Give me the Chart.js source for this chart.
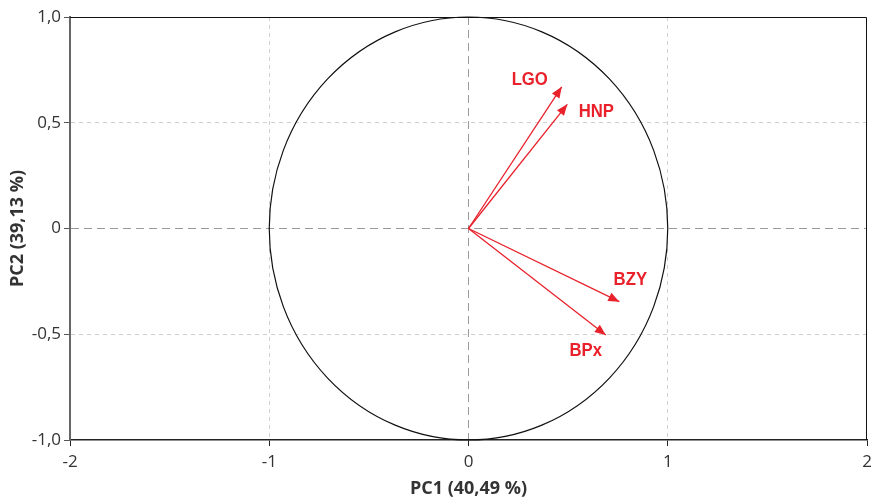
<!DOCTYPE html>
<html>
<head>
<meta charset="utf-8">
<script src="https://cdn.jsdelivr.net/npm/chart.js@4.4.1/dist/chart.umd.min.js"></script>
<style>
  body { margin: 0; background: #fff; }
  #wrap { width: 872px; height: 504px; }
</style>
</head>
<body>
<div id="wrap"><canvas id="pca"></canvas></div>
<script>
// variables du cercle des corrélations
const varNames = ["LGO", "HNP", "BZY", "BPx"];
const pc1 = [0.468, 0.496, 0.757, 0.689];
const pc2 = [0.670, 0.587, -0.346, -0.504];
const xTitle = "PC1 (40,49 %)";
const yTitle = "PC2 (39,13 %)";

const red = "#e8212b";

// décalage des étiquettes par rapport à la pointe (px)
const labelOffsets = { LGO: [-32, -7], HNP: [29, 7], BZY: [11, -22], BPx: [-20, 16] };

const datasets = varNames.map((name, i) => ({
  label: name,
  data: [{ x: 0, y: 0 }, { x: pc1[i], y: pc2[i] }],
  borderColor: red,
  borderWidth: 1.3,
  pointRadius: 0,
  showLine: true,
}));

function gridColor(ctx, edge) {
  const v = ctx.tick.value;
  if (Math.abs(v) === edge) return "rgba(0,0,0,0)";
  return v === 0 ? "#9a9a9a" : "#d0d0d0";
}
function gridDash(ctx) {
  return ctx.tick && ctx.tick.value === 0 ? [8, 5] : [4, 4];
}

const circlePlugin = {
  id: "circle",
  beforeDatasetsDraw(chart) {
    const { ctx, scales } = chart;
    const x0 = scales.x.getPixelForValue(0);
    const y0 = scales.y.getPixelForValue(0);
    const rx = scales.x.getPixelForValue(1) - x0;
    const ry = y0 - scales.y.getPixelForValue(1);
    ctx.save();
    ctx.strokeStyle = "#111";
    ctx.lineWidth = 1.2;
    ctx.beginPath();
    ctx.ellipse(x0, y0, rx, ry, 0, 0, Math.PI * 2);
    ctx.stroke();
    ctx.restore();
  },
};

const arrowPlugin = {
  id: "arrows",
  afterDatasetsDraw(chart) {
    const { ctx } = chart;
    chart.data.datasets.forEach((ds, i) => {
      const meta = chart.getDatasetMeta(i);
      const a = meta.data[0], b = meta.data[1];
      const ang = Math.atan2(b.y - a.y, b.x - a.x);
      const len = 11, half = 4.5;
      ctx.save();
      ctx.fillStyle = red;
      ctx.beginPath();
      ctx.moveTo(b.x, b.y);
      ctx.lineTo(b.x - len * Math.cos(ang) + half * Math.sin(ang), b.y - len * Math.sin(ang) - half * Math.cos(ang));
      ctx.lineTo(b.x - len * Math.cos(ang) - half * Math.sin(ang), b.y - len * Math.sin(ang) + half * Math.cos(ang));
      ctx.closePath();
      ctx.fill();

      // étiquette un peu condensée
      const off = labelOffsets[ds.label];
      ctx.translate(b.x + off[0], b.y + off[1]);
      ctx.scale(0.88, 1);
      ctx.font = "bold 19px 'Liberation Sans', sans-serif";
      ctx.textAlign = "center";
      ctx.textBaseline = "middle";
      ctx.fillText(ds.label, 0, 0);
      ctx.restore();
    });
  },
};

const framePlugin = {
  id: "frame",
  afterDraw(chart) {
    const { ctx, chartArea } = chart;
    ctx.save();
    ctx.strokeStyle = "#111";
    ctx.lineWidth = 1;
    ctx.beginPath();
    ctx.moveTo(chartArea.left, chartArea.top + 0.5);
    ctx.lineTo(chartArea.right - 0.5, chartArea.top + 0.5);
    ctx.lineTo(chartArea.right - 0.5, chartArea.bottom);
    ctx.stroke();
    ctx.restore();
  },
};

new Chart(document.getElementById("pca"), {
  type: "scatter",
  data: { datasets },
  options: {
    responsive: true,
    maintainAspectRatio: false,
    animation: false,
    layout: { padding: { top: 17, right: 0, left: 0, bottom: 0 } },
    plugins: { legend: { display: false }, tooltip: { enabled: false } },
    scales: {
      x: {
        min: -2,
        max: 2,
        afterFit: (s) => { s.height = 64; s.paddingRight = 5; },
        ticks: {
          stepSize: 1,
          color: "#333",
          padding: 6,
          font: { family: "'Open Sans', sans-serif", size: 17 },
          callback: (v) => String(v),
        },
        grid: {
          color: (c) => gridColor(c, 2),
          tickColor: "#222",
          tickLength: 6,
          tickBorderDash: [],
        },
        border: { color: "#222", width: 1.5, dash: gridDash },
        title: {
          display: true,
          text: xTitle,
          color: "#333",
          padding: { top: 0 },
          font: { family: "'Open Sans', sans-serif", size: 18, weight: "bold" },
        },
      },
      y: {
        min: -1,
        max: 1,
        afterFit: (s) => { s.width = 70; },
        ticks: {
          stepSize: 0.5,
          color: "#333",
          padding: 3,
          font: { family: "'Open Sans', sans-serif", size: 17 },
          callback: (v) => (v === 0 ? "0" : v.toFixed(1).replace(".", ",")),
        },
        grid: {
          color: (c) => gridColor(c, 1),
          tickColor: "#555",
          tickLength: 6,
          tickBorderDash: [],
        },
        border: { color: "#666", width: 2, dash: gridDash },
        title: {
          display: true,
          text: yTitle,
          color: "#333",
          padding: { top: 7, bottom: 0 },
          font: { family: "'Open Sans', sans-serif", size: 18, weight: "bold" },
        },
      },
    },
  },
  plugins: [circlePlugin, arrowPlugin, framePlugin],
});
</script>
</body>
</html>
